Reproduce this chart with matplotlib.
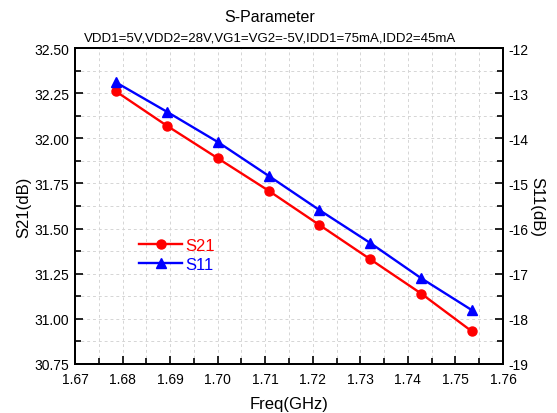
import numpy as np
import matplotlib.pyplot as plt
from matplotlib.ticker import MultipleLocator

plt.rcParams['font.family'] = ['Liberation Sans', 'DejaVu Sans']
plt.rcParams['axes.unicode_minus'] = False

# 数据
freq = [1.6786, 1.6893, 1.7000, 1.7107, 1.7214, 1.7321, 1.7428, 1.7535]
s21 = [32.26, 32.07, 31.89, 31.71, 31.52, 31.33, 31.14, 30.93]
s11 = [-12.76, -13.41, -14.08, -14.83, -15.59, -16.32, -17.10, -17.81]

fig = plt.figure(figsize=(5.57, 4.14), dpi=100)
ax = fig.add_axes([0.1346, 0.1184, 0.7684, 0.7632])
ax2 = ax.twinx()

l1, = ax.plot(freq, s21, '-o', color='red', lw=1.7, ms=6.5, label='S21')
l2, = ax2.plot(freq, s11, '-^', color='blue', lw=1.7, ms=6.5, label='S11')

ax.set_xlim(1.67, 1.76)
ax.set_ylim(30.75, 32.50)
ax2.set_ylim(-19, -12)

ax.xaxis.set_major_locator(MultipleLocator(0.01))
ax.xaxis.set_minor_locator(MultipleLocator(0.005))
ax.yaxis.set_major_locator(MultipleLocator(0.25))
ax.yaxis.set_minor_locator(MultipleLocator(0.125))
ax2.yaxis.set_major_locator(MultipleLocator(1))
ax2.yaxis.set_minor_locator(MultipleLocator(0.5))
ax.xaxis.set_major_formatter(plt.FormatStrFormatter('%.2f'))
ax.yaxis.set_major_formatter(plt.FormatStrFormatter('%.2f'))

ax.grid(True, which='both', ls=(0, (3, 3)), color='#d5d5d5', lw=0.7)
ax.set_axisbelow(True)

for a in (ax, ax2):
    a.tick_params(which='both', direction='in', labelsize=10, width=1.2, pad=4)
    a.tick_params(which='major', length=6)
    a.tick_params(which='minor', length=4)
    for s in a.spines.values():
        s.set_linewidth(1.4)
ax.tick_params(top=False, right=False, which='both')
ax2.tick_params(top=False, which='both')
ax.tick_params(axis='x', pad=6)

ax.set_xlabel('Freq(GHz)', fontsize=12, labelpad=7)
ax.set_ylabel('S21(dB)', fontsize=12, labelpad=2)
ax2.set_ylabel('S11(dB)', fontsize=12, rotation=270, labelpad=11)

fig.text(0.484, 0.957, 'S-Parameter', ha='center', va='center', fontsize=11.5)
fig.text(0.484, 0.908, 'VDD1=5V,VDD2=28V,VG1=VG2=-5V,IDD1=75mA,IDD2=45mA',
         ha='center', va='center', fontsize=9.5)

leg = ax.legend(handles=[l1, l2], loc='upper left', bbox_to_anchor=(0.13, 0.425),
                frameon=False, fontsize=12, handlelength=2.6, handletextpad=0.2,
                labelspacing=0.25, borderpad=0)
for t, c in zip(leg.get_texts(), ['red', 'blue']):
    t.set_color(c)

fig.savefig('out.png', dpi=100)
